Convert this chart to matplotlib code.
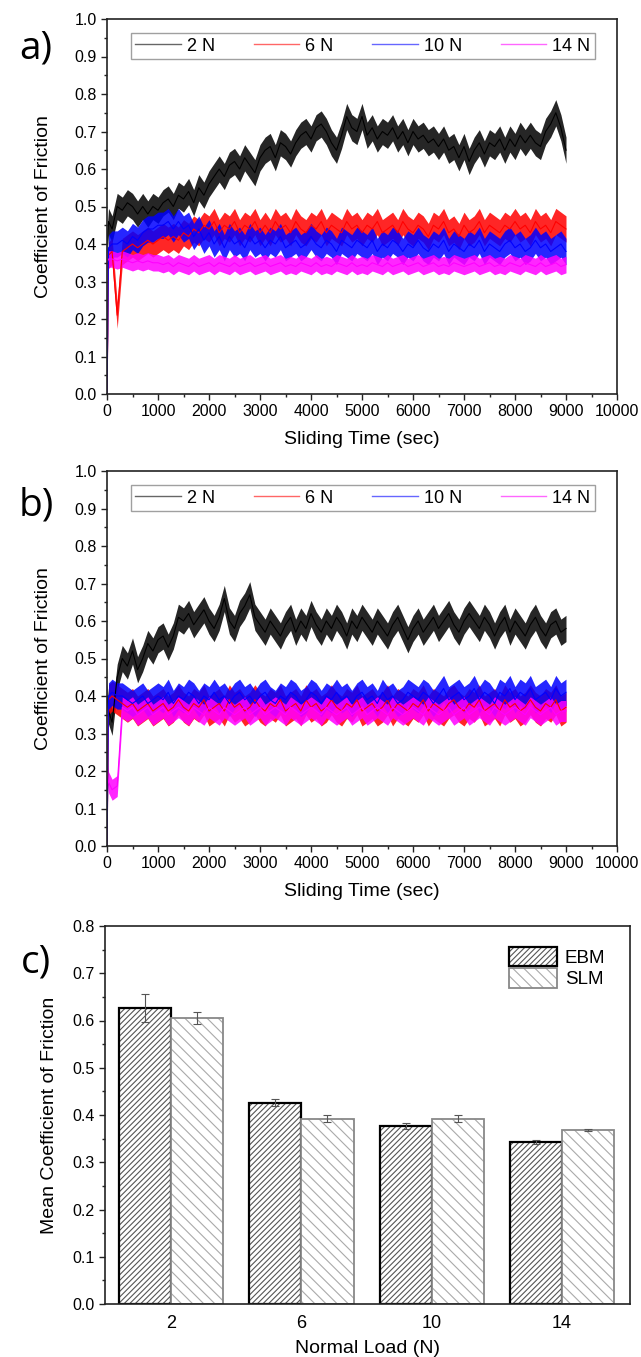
import numpy as np
import matplotlib.pyplot as plt
from matplotlib.patches import Patch
from matplotlib.ticker import MultipleLocator

plt.rcParams['font.family'] = ['Liberation Sans', 'DejaVu Sans']
plt.rcParams['hatch.linewidth'] = 0.8

# --- data -------------------------------------------------------------
loads = ['2 N', '6 N', '10 N', '14 N']
line_colors = ['#000000', '#ff0000', '#0000ff', '#ff00ff']
time_s = [0, 30] + list(range(100, 9100, 100))

# a) EBM, coefficient of friction vs sliding time (read off the curves)
cof_a_2N = [0.40, 0.46,
            0.44, 0.50, 0.49, 0.51, 0.50, 0.48, 0.50, 0.48, 0.50, 0.49,
            0.51, 0.52, 0.50, 0.53, 0.52, 0.54, 0.51, 0.55, 0.53, 0.56,
            0.58, 0.60, 0.58, 0.61, 0.62, 0.60, 0.63, 0.61, 0.59, 0.63,
            0.65, 0.66, 0.63, 0.67, 0.66, 0.64, 0.67, 0.69, 0.70, 0.68,
            0.71, 0.72, 0.70, 0.67, 0.65, 0.69, 0.74, 0.71, 0.70, 0.74,
            0.69, 0.71, 0.68, 0.70, 0.69, 0.71, 0.68, 0.70, 0.67, 0.70,
            0.68, 0.69, 0.67, 0.68, 0.66, 0.68, 0.65, 0.66, 0.63, 0.66,
            0.62, 0.65, 0.67, 0.64, 0.67, 0.66, 0.68, 0.65, 0.68, 0.66,
            0.69, 0.67, 0.69, 0.67, 0.66, 0.70, 0.72, 0.75, 0.71, 0.65]
cof_a_6N = [0.00, 0.37,
            0.38, 0.21, 0.38, 0.39, 0.40, 0.39, 0.40, 0.41, 0.40, 0.41,
            0.42, 0.41, 0.42, 0.41, 0.43, 0.42, 0.44, 0.43, 0.45, 0.44,
            0.46, 0.43, 0.45, 0.44, 0.46, 0.43, 0.45, 0.44, 0.46, 0.43,
            0.45, 0.43, 0.46, 0.44, 0.45, 0.43, 0.46, 0.44, 0.43, 0.45,
            0.44, 0.46, 0.43, 0.45, 0.44, 0.43, 0.46, 0.44, 0.45, 0.43,
            0.45, 0.44, 0.46, 0.43, 0.44, 0.45, 0.43, 0.46, 0.44, 0.43,
            0.45, 0.44, 0.42, 0.45, 0.44, 0.46, 0.43, 0.44, 0.42, 0.45,
            0.43, 0.44, 0.46, 0.43, 0.45, 0.44, 0.43, 0.45, 0.44, 0.46,
            0.44, 0.45, 0.43, 0.46, 0.44, 0.45, 0.43, 0.46, 0.45, 0.44]
cof_a_10N = [0.00, 0.39,
             0.40, 0.40, 0.41, 0.40, 0.42, 0.41, 0.43, 0.44, 0.44, 0.45,
             0.45, 0.46, 0.44, 0.46, 0.44, 0.45, 0.42, 0.44, 0.41, 0.43,
             0.40, 0.42, 0.39, 0.42, 0.40, 0.41, 0.39, 0.42, 0.40, 0.41,
             0.39, 0.41, 0.40, 0.42, 0.39, 0.40, 0.41, 0.39, 0.40, 0.42,
             0.40, 0.39, 0.41, 0.40, 0.38, 0.41, 0.40, 0.39, 0.41, 0.40,
             0.39, 0.41, 0.38, 0.40, 0.39, 0.41, 0.40, 0.38, 0.40, 0.39,
             0.41, 0.39, 0.38, 0.40, 0.39, 0.41, 0.38, 0.40, 0.39, 0.38,
             0.40, 0.39, 0.41, 0.38, 0.40, 0.39, 0.38, 0.40, 0.41, 0.39,
             0.40, 0.38, 0.39, 0.41, 0.39, 0.40, 0.38, 0.39, 0.40, 0.38]
cof_a_14N = [0.35, 0.36,
             0.36, 0.355, 0.36, 0.355, 0.35, 0.355, 0.35, 0.355, 0.35, 0.35,
             0.345, 0.35, 0.34, 0.35, 0.345, 0.34, 0.35, 0.34, 0.345, 0.35,
             0.34, 0.35, 0.345, 0.34, 0.35, 0.34, 0.345, 0.35, 0.34, 0.345,
             0.35, 0.34, 0.345, 0.35, 0.34, 0.345, 0.34, 0.35, 0.345, 0.34,
             0.35, 0.34, 0.345, 0.34, 0.35, 0.345, 0.34, 0.35, 0.34, 0.345,
             0.34, 0.35, 0.345, 0.34, 0.35, 0.34, 0.345, 0.35, 0.34, 0.345,
             0.35, 0.34, 0.345, 0.35, 0.34, 0.345, 0.34, 0.35, 0.345, 0.34,
             0.345, 0.35, 0.34, 0.345, 0.35, 0.34, 0.345, 0.34, 0.35, 0.345,
             0.34, 0.35, 0.345, 0.34, 0.35, 0.34, 0.345, 0.35, 0.34, 0.345]

# b) SLM
cof_b_2N = [0.40, 0.36,
            0.33, 0.45, 0.50, 0.48, 0.52, 0.47, 0.50, 0.54, 0.52, 0.55,
            0.56, 0.53, 0.56, 0.61, 0.60, 0.62, 0.59, 0.61, 0.63, 0.60,
            0.58, 0.61, 0.66, 0.60, 0.58, 0.62, 0.64, 0.67, 0.61, 0.59,
            0.57, 0.60, 0.58, 0.56, 0.59, 0.61, 0.57, 0.60, 0.58, 0.62,
            0.59, 0.57, 0.60, 0.58, 0.61, 0.59, 0.56, 0.60, 0.58, 0.61,
            0.59, 0.57, 0.60, 0.58, 0.56, 0.59, 0.61, 0.58, 0.55, 0.58,
            0.60, 0.57, 0.59, 0.61, 0.58, 0.60, 0.62, 0.59, 0.57, 0.60,
            0.62, 0.60, 0.58, 0.61, 0.59, 0.56, 0.59, 0.61, 0.57, 0.60,
            0.58, 0.56, 0.59, 0.61, 0.58, 0.56, 0.59, 0.60, 0.57, 0.58]
cof_b_6N = [0.00, 0.39,
            0.40, 0.39, 0.38, 0.37, 0.38, 0.36, 0.37, 0.38, 0.36, 0.37,
            0.38, 0.36, 0.37, 0.39, 0.37, 0.36, 0.38, 0.37, 0.39, 0.36,
            0.37, 0.38, 0.36, 0.39, 0.37, 0.38, 0.36, 0.37, 0.39, 0.37,
            0.36, 0.38, 0.37, 0.39, 0.36, 0.37, 0.38, 0.36, 0.39, 0.37,
            0.38, 0.36, 0.37, 0.39, 0.37, 0.36, 0.38, 0.37, 0.39, 0.36,
            0.37, 0.38, 0.36, 0.37, 0.39, 0.36, 0.38, 0.37, 0.36, 0.38,
            0.37, 0.39, 0.36, 0.38, 0.37, 0.36, 0.38, 0.39, 0.37, 0.36,
            0.38, 0.37, 0.39, 0.36, 0.37, 0.38, 0.36, 0.39, 0.37, 0.38,
            0.36, 0.37, 0.39, 0.37, 0.36, 0.38, 0.37, 0.39, 0.36, 0.37]
cof_b_10N = [0.00, 0.40,
             0.41, 0.40, 0.40, 0.39, 0.38, 0.39, 0.40, 0.38, 0.39, 0.40,
             0.39, 0.41, 0.38, 0.40, 0.39, 0.41, 0.40, 0.38, 0.40, 0.39,
             0.41, 0.39, 0.40, 0.38, 0.40, 0.41, 0.39, 0.40, 0.38, 0.40,
             0.41, 0.39, 0.38, 0.40, 0.39, 0.41, 0.40, 0.38, 0.39, 0.41,
             0.40, 0.38, 0.40, 0.39, 0.41, 0.39, 0.40, 0.38, 0.40, 0.41,
             0.39, 0.40, 0.38, 0.41, 0.39, 0.40, 0.38, 0.39, 0.41, 0.40,
             0.39, 0.41, 0.40, 0.38, 0.40, 0.42, 0.39, 0.40, 0.41, 0.39,
             0.40, 0.42, 0.39, 0.41, 0.40, 0.38, 0.41, 0.40, 0.42, 0.39,
             0.41, 0.40, 0.42, 0.39, 0.40, 0.41, 0.39, 0.42, 0.40, 0.41]
cof_b_14N = [0.20, 0.17,
             0.15, 0.16, 0.37, 0.36, 0.37, 0.35, 0.36, 0.37, 0.35, 0.36,
             0.37, 0.35, 0.36, 0.37, 0.36, 0.35, 0.37, 0.36, 0.35, 0.37,
             0.36, 0.35, 0.37, 0.36, 0.35, 0.36, 0.37, 0.35, 0.36, 0.37,
             0.35, 0.36, 0.37, 0.36, 0.35, 0.37, 0.36, 0.35, 0.36, 0.37,
             0.36, 0.35, 0.37, 0.36, 0.35, 0.36, 0.37, 0.35, 0.36, 0.37,
             0.35, 0.36, 0.37, 0.36, 0.35, 0.37, 0.36, 0.35, 0.36, 0.37,
             0.36, 0.35, 0.37, 0.36, 0.35, 0.36, 0.37, 0.35, 0.36, 0.37,
             0.35, 0.36, 0.37, 0.36, 0.35, 0.37, 0.36, 0.35, 0.36, 0.37,
             0.36, 0.35, 0.37, 0.36, 0.35, 0.36, 0.37, 0.35, 0.36, 0.36]

# half width of the noise band of each curve
noise_a = [0.035, 0.035, 0.035, 0.022]
noise_b = [0.035, 0.040, 0.035, 0.028]

# c) mean coefficient of friction
load_groups = ['2', '6', '10', '14']
ebm_mean = [0.627, 0.426, 0.377, 0.343]
ebm_err = [0.030, 0.008, 0.006, 0.005]
slm_mean = [0.605, 0.392, 0.392, 0.368]
slm_err = [0.012, 0.007, 0.007, 0.002]

# --- figure -----------------------------------------------------------
W, H = 641, 1357
fig = plt.figure(figsize=(W / 100, H / 100), dpi=100)


def box(left, top, right, bottom):
    return [left / W, 1 - bottom / H, (right - left) / W, (bottom - top) / H]


def style_axes(ax):
    for sp in ax.spines.values():
        sp.set_linewidth(1.2)
        sp.set_color('#222222')
    ax.tick_params(which='both', direction='out', top=False, right=False,
                   labelsize=11.5, width=1.0, color='#222222')
    ax.tick_params(which='major', length=4)
    ax.tick_params(which='minor', length=2.5)


def time_panel(ax, series, noise):
    t = np.array(time_s)
    for name, col, vals, hw in zip(loads, line_colors, series, noise):
        v = np.array(vals)
        ax.fill_between(t, v - hw, v + hw, color=col, lw=0, alpha=0.85)
        ax.plot(t, v, color=col, lw=0.8, label=name)
    ax.set_xlim(0, 10000)
    ax.set_ylim(0, 1.0)
    ax.xaxis.set_major_locator(MultipleLocator(1000))
    ax.xaxis.set_minor_locator(MultipleLocator(500))
    ax.yaxis.set_major_locator(MultipleLocator(0.1))
    ax.yaxis.set_minor_locator(MultipleLocator(0.05))
    ax.yaxis.set_major_formatter(lambda v, p: f'{v:.1f}')
    ax.set_xlabel('Sliding Time (sec)', fontsize=14, labelpad=8)
    ax.set_ylabel('Coefficient of Friction', fontsize=14, labelpad=16)
    style_axes(ax)
    leg = ax.legend(loc='upper left', bbox_to_anchor=(0.047, 0.962), ncol=4,
                    frameon=True, fancybox=False, edgecolor='#888888',
                    fontsize=13, handlelength=2.5, columnspacing=2.15,
                    handletextpad=0.35, borderpad=0.25, borderaxespad=0)
    leg.get_frame().set_linewidth(1.0)
    for ln in leg.get_lines():
        ln.set_linewidth(1.0)
        ln.set_alpha(0.6)


ax_a = fig.add_axes(box(107, 19, 617, 394))
time_panel(ax_a, [cof_a_2N, cof_a_6N, cof_a_10N, cof_a_14N], noise_a)

ax_b = fig.add_axes(box(107, 471, 617, 846))
time_panel(ax_b, [cof_b_2N, cof_b_6N, cof_b_10N, cof_b_14N], noise_b)

# bar chart
ax_c = fig.add_axes(box(105, 926, 630, 1304))
x = np.arange(len(load_groups))
w = 0.4
ax_c.bar(x - w / 2, ebm_mean, w, color='white', edgecolor='#555555',
         hatch='//////', lw=0)
ax_c.bar(x - w / 2, ebm_mean, w, fill=False, edgecolor='black', lw=1.6)
ax_c.bar(x + w / 2, slm_mean, w, color='white', edgecolor='#aaaaaa',
         hatch='\\\\\\', lw=0)
ax_c.bar(x + w / 2, slm_mean, w, fill=False, edgecolor='#888888', lw=1.3)
ax_c.errorbar(x - w / 2, ebm_mean, yerr=ebm_err, fmt='none', ecolor='#555555',
              elinewidth=0.8, capsize=3, capthick=0.8)
ax_c.errorbar(x + w / 2, slm_mean, yerr=slm_err, fmt='none', ecolor='#555555',
              elinewidth=0.8, capsize=3, capthick=0.8)
ax_c.set_xlim(-0.51, 3.525)
ax_c.set_ylim(0, 0.8)
ax_c.set_xticks(x)
ax_c.set_xticklabels(load_groups)
ax_c.yaxis.set_major_locator(MultipleLocator(0.1))
ax_c.yaxis.set_minor_locator(MultipleLocator(0.05))
ax_c.yaxis.set_major_formatter(lambda v, p: f'{v:.1f}')
ax_c.set_xlabel('Normal Load (N)', fontsize=14, labelpad=6)
ax_c.set_ylabel('Mean Coefficient of Friction', fontsize=14, labelpad=10)
style_axes(ax_c)
ax_c.tick_params(axis='x', which='both', length=0, pad=8, labelsize=13)

h_ebm = (Patch(facecolor='white', edgecolor='#555555', hatch='//////', lw=0),
         Patch(fill=False, edgecolor='black', lw=1.6))
h_slm = (Patch(facecolor='white', edgecolor='#aaaaaa', hatch='\\\\\\', lw=0),
         Patch(fill=False, edgecolor='#888888', lw=1.3))
ax_c.legend([h_ebm, h_slm], ['EBM', 'SLM'], loc='upper right',
            bbox_to_anchor=(0.985, 0.99), frameon=False, fontsize=13.5,
            handlelength=2.6, handleheight=1.2, handletextpad=0.4,
            labelspacing=0.1)

# panel letters
for label, ypx in [('a)', 48), ('b)', 505), ('c)', 962)]:
    fig.text(36 / W, 1 - ypx / H, label, fontsize=28, family='Open Sans',
             ha='center', va='center')

fig.savefig('out.png', dpi=100)
